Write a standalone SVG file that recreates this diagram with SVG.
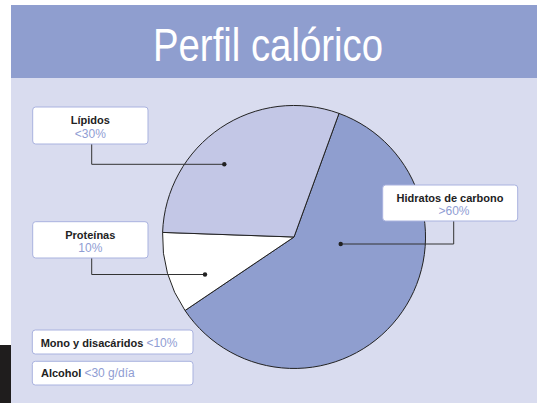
<svg xmlns="http://www.w3.org/2000/svg" width="538" height="403" viewBox="0 0 538 403">
<style>
.box{fill:#fff;stroke:#a9b2df;stroke-width:1}
.name{font-family:"Liberation Sans",Arial,sans-serif;font-weight:bold;font-size:11px;fill:#222}
.pct{font-family:"Liberation Sans",Arial,sans-serif;font-size:12px;fill:#8f9dd3}
.con{fill:none;stroke:#333;stroke-width:1}
.dot{fill:#222}
.edge{stroke:#222;stroke-width:1}
</style>
<rect width="538" height="403" fill="#fff"/>
<rect x="11" y="78" width="526" height="325" fill="#d9dcef"/>
<rect x="0" y="345" width="11" height="58" fill="#1f1d1d"/>
<g id="header">
<rect x="11" y="5" width="526" height="73" fill="#8f9ecf"/>
<text x="268" y="61" text-anchor="middle" font-family="'Liberation Sans',Arial,sans-serif" font-size="46" fill="#fff" textLength="230" lengthAdjust="spacingAndGlyphs">Perfil calórico</text>
</g>
<g id="pie">
<path d="M294 237 L339 113.4 A131.5 131.5 0 1 1 185 310.5 Z" fill="#8f9ecf" class="edge"/>
<path d="M294 237 L185 310.5 A131.5 131.5 0 0 1 162.6 232.4 Z" fill="#fff" class="edge"/>
<path d="M294 237 L162.6 232.4 A131.5 131.5 0 0 1 339 113.4 Z" fill="#c3c7e6" class="edge"/>
</g>
<g id="connectors">
<polyline class="con" points="91.7,144 91.7,164.3 224.3,164.3"/>
<circle class="dot" cx="224.3" cy="164.3" r="2.2"/>
<polyline class="con" points="91.7,258 91.7,274.5 205,274.5"/>
<circle class="dot" cx="205" cy="274.5" r="2.2"/>
<polyline class="con" points="340.7,244 453.7,244 453.7,221"/>
<circle class="dot" cx="340.7" cy="244" r="2.2"/>
</g>
<g id="lipidos">
<rect class="box" x="32.7" y="107" width="115.3" height="37" rx="3"/>
<text class="name" x="90.3" y="124.3" text-anchor="middle">Lípidos</text>
<text class="pct" x="90.3" y="137.5" text-anchor="middle">&lt;30%</text>
</g>
<g id="proteinas">
<rect class="box" x="32.7" y="221.7" width="115.3" height="36.3" rx="3"/>
<text class="name" x="90.3" y="238.5" text-anchor="middle">Proteínas</text>
<text class="pct" x="90.3" y="252.3" text-anchor="middle">10%</text>
</g>
<g id="hidratos">
<rect class="box" x="382.7" y="185" width="135" height="36" rx="3"/>
<text class="name" x="450" y="201.7" text-anchor="middle" font-size="11.5">Hidratos de carbono</text>
<text class="pct" x="454" y="215.2" text-anchor="middle">&gt;60%</text>
</g>
<g id="mono">
<rect class="box" x="32.3" y="330" width="160.7" height="24" rx="3"/>
<text x="40.7" y="346.7"><tspan class="name">Mono y disacáridos </tspan><tspan class="pct">&lt;10%</tspan></text>
</g>
<g id="alcohol">
<rect class="box" x="32.3" y="361.3" width="160.7" height="23.7" rx="3"/>
<text x="41" y="376.7"><tspan class="name">Alcohol </tspan><tspan class="pct">&lt;30 g/día</tspan></text>
</g>
</svg>
